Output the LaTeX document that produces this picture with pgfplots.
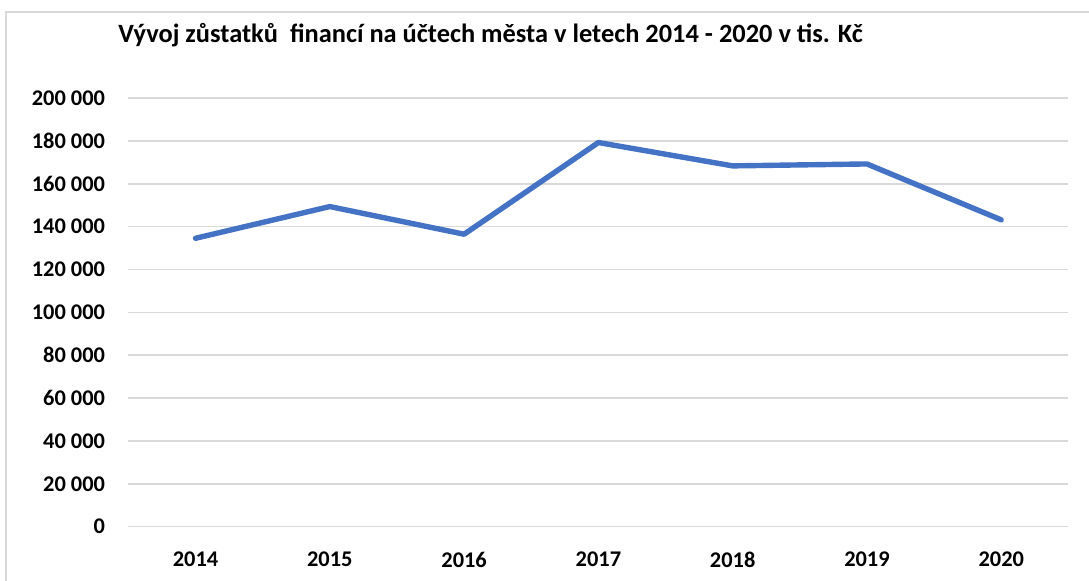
\documentclass[border=0pt]{standalone}
\usepackage{fontspec}
\setmainfont{Carlito}
\usepackage{pgfplots}
\pgfplotsset{compat=1.18}
\definecolor{lineblue}{HTML}{4472C4}
\definecolor{gridgray}{HTML}{D9D9D9}
\begin{document}
\begin{tikzpicture}
\useasboundingbox (0pt,0pt) rectangle (544.5pt,-290.5pt);
\draw[gridgray, line width=0.9pt] (3pt,-295pt) -- (3pt,-6pt) -- (550pt,-6pt);
\node[anchor=base west, font=\fontsize{13.2}{15}\selectfont\bfseries, inner sep=0pt] at (59pt,-21.5pt) {Vývoj zůstatků\ \ financí na účtech města v letech 2014 - 2020 v tis. Kč};
\begin{axis}[
  at={(64.2pt,-263.3pt)}, anchor=south west,
  scale only axis, width=470pt, height=214.2pt,
  xmin=-0.5, xmax=6.5, ymin=0, ymax=200000,
  xtick={0,...,6}, xticklabels={2014,2015,2016,2017,2018,2019,2020},
  ytick={0,20000,...,200000},
  axis line style={draw=none},
  major tick length=0pt,
  ymajorgrids, major grid style={gridgray, line width=0.75pt},
  tick label style={font=\fontsize{11.2}{13}\selectfont\bfseries, inner sep=0pt},
  yticklabel style={anchor=east, xshift=-11.5pt},
  xticklabel style={anchor=north, yshift=-12.5pt},
  scaled y ticks=false,
  /pgf/number format/.cd, fixed, 1000 sep={\ }, assume math mode=true,
]
\addplot[lineblue, line width=2.7pt, line join=round, line cap=round] coordinates {
(0,134600) (1,149400) (2,136500) (3,179300) (4,168400) (5,169300) (6,143200)
};
\end{axis}
\end{tikzpicture}
\end{document}
